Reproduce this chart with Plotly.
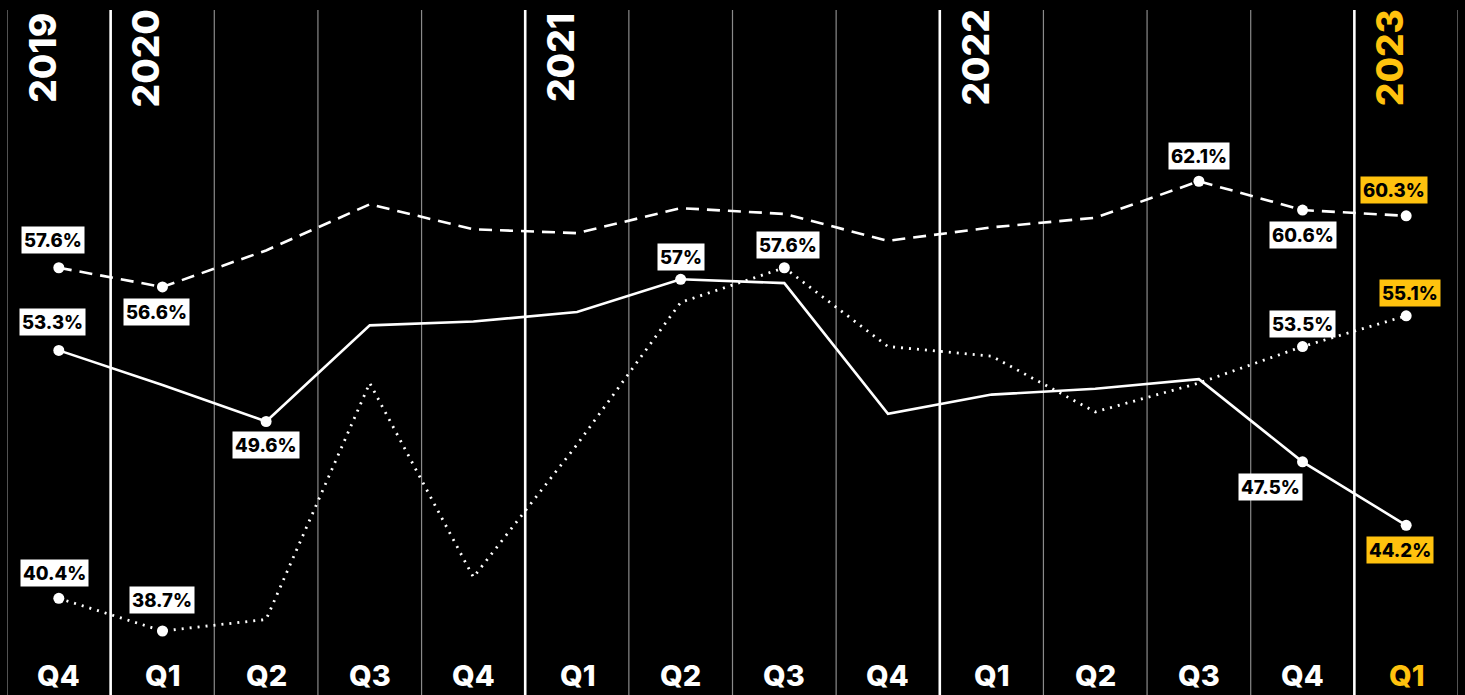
import plotly.graph_objects as go

# ---- data ----
quarters = ["Q4", "Q1", "Q2", "Q3", "Q4", "Q1", "Q2", "Q3", "Q4", "Q1", "Q2", "Q3", "Q4", "Q1"]
quarter_years = ["2019", "2020", "2020", "2020", "2020", "2021", "2021", "2021", "2021",
                 "2022", "2022", "2022", "2022", "2023"]
series_dashed = [57.6, 56.6, 58.5, 60.9, 59.6, 59.4, 60.7, 60.4, 59.0, 59.7, 60.2, 62.1, 60.6, 60.3]
series_solid = [53.3, 51.5, 49.6, 54.6, 54.8, 55.3, 57.0, 56.8, 50.0, 51.0, 51.3, 51.8, 47.5, 44.2]
series_dotted = [40.4, 38.7, 39.3, 51.6, 41.5, 48.4, 55.8, 57.6, 53.5, 53.0, 50.1, 51.6, 53.5, 55.1]

# labelled points: (index, label text)
labels_dashed = [(0, "57.6%"), (1, "56.6%"), (11, "62.1%"), (12, "60.6%"), (13, "60.3%")]
labels_solid = [(0, "53.3%"), (2, "49.6%"), (6, "57%"), (12, "47.5%"), (13, "44.2%")]
labels_dotted = [(0, "40.4%"), (1, "38.7%"), (7, "57.6%"), (12, "53.5%"), (13, "55.1%")]

# ---- styles ----
W, H = 1465, 695
BG = "#000000"
YELLOW = "#FFC20E"
FONT = "Inter"
n = len(quarters)
xs = list(range(n))

fig = go.Figure()

line_defs = [
    (series_dashed, dict(color="white", width=2.6, dash="13px,8px")),
    (series_solid, dict(color="white", width=2.6)),
    (series_dotted, dict(color="white", width=2.8, dash="2px,6px")),
]
for vals, ln in line_defs:
    fig.add_trace(go.Scatter(x=xs, y=vals, mode="lines", line=ln,
                             hoverinfo="skip", showlegend=False))

# markers
for vals, labs in [(series_dashed, labels_dashed), (series_solid, labels_solid),
                   (series_dotted, labels_dotted)]:
    idx = [i for i, _ in labs]
    fig.add_trace(go.Scatter(x=idx, y=[vals[i] for i in idx], mode="markers",
                             marker=dict(color="white", size=11, line=dict(width=0)),
                             hoverinfo="skip", showlegend=False))

# label placements (xshift, yshift) per series/index
place = {
    ("d", 0): (-6, 28), ("d", 1): (-6, -25), ("d", 11): (0, 25), ("d", 12): (0, -25), ("d", 13): (-12, 26),
    ("s", 0): (-6, 28), ("s", 2): (0, -23), ("s", 6): (0, 22), ("s", 12): (-32, -25), ("s", 13): (-6, -25),
    ("o", 0): (-4, 25), ("o", 1): (0, 31), ("o", 7): (4, 23), ("o", 12): (0, 23), ("o", 13): (4, 23),
}
for key, vals, labs in [("d", series_dashed, labels_dashed), ("s", series_solid, labels_solid),
                        ("o", series_dotted, labels_dotted)]:
    for i, txt in labs:
        xsft, ysft = place[(key, i)]
        bg = YELLOW if i == n - 1 else "white"
        fig.add_annotation(x=i, y=vals[i], xref="x", yref="y", text=txt,
                           showarrow=False, xshift=xsft, yshift=ysft,
                           font=dict(family=FONT, size=18.5, color="black", weight=800),
                           bgcolor=bg, borderpad=2)

# vertical separators
top = 1 - 10 / H
for k in range(n + 1):
    xv = k - 0.5
    is_year = 0 < k < n and quarters[k] == "Q1"
    fig.add_shape(type="line", xref="x", yref="paper", x0=xv, x1=xv, y0=0, y1=top,
                  line=dict(color="white" if is_year else "#8a8a8a",
                            width=2.6 if is_year else 1.2),
                  layer="below")

# year labels (first quarter of each year)
seen = set()
for i, yr in enumerate(quarter_years):
    if yr in seen:
        continue
    seen.add(yr)
    col = YELLOW if i == n - 1 else "white"
    fig.add_annotation(x=i, y=1 - 58 / H, xref="x", yref="paper", text=yr,
                       showarrow=False, textangle=-90, xshift=-16,
                       font=dict(family=FONT, size=37, color=col, weight=800),
                       xanchor="center", yanchor="middle")

# quarter labels
for i, q in enumerate(quarters):
    col = YELLOW if i == n - 1 else "white"
    fig.add_annotation(x=i, y=1 - 675 / H, xref="x", yref="paper", text=q,
                       showarrow=False, font=dict(family=FONT, size=29, color=col, weight=800),
                       xanchor="center", yanchor="middle")

fig.update_layout(
    width=W, height=H,
    margin=dict(l=7, r=7, t=0, b=0, pad=0),
    paper_bgcolor=BG, plot_bgcolor=BG,
    xaxis=dict(range=[-0.5, n - 0.5], visible=False, fixedrange=True),
    yaxis=dict(range=[35.37, 71.53], visible=False, fixedrange=True),
    showlegend=False,
)

fig.write_html("out.html", config={"displayModeBar": False})
